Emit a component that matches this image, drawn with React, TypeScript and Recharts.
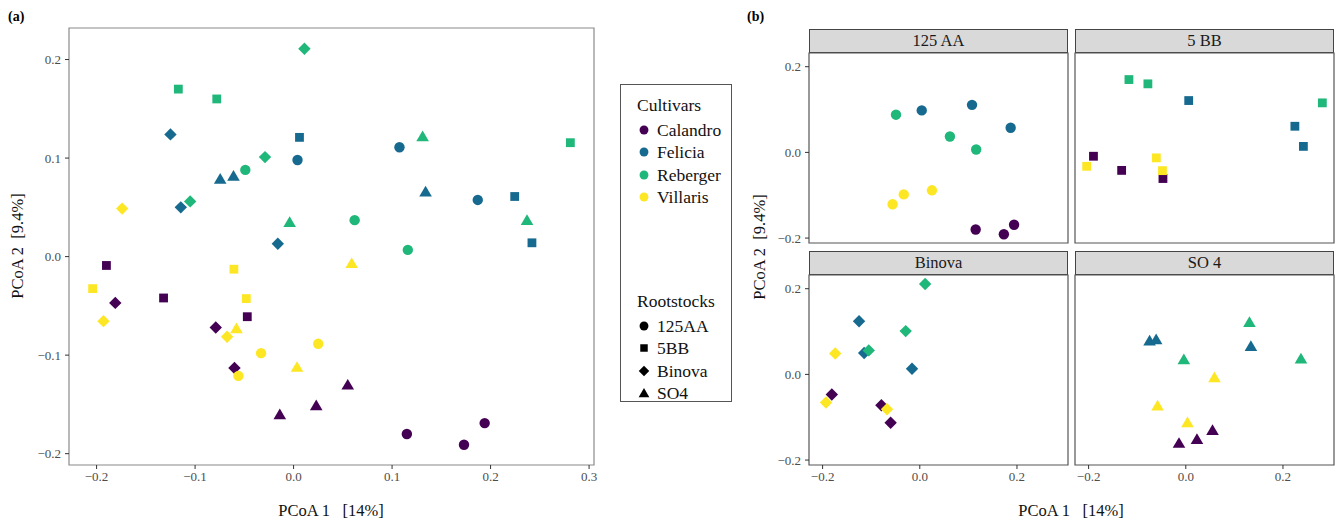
import React from "react";
import {
  ReferenceArea,
  Scatter,
  ScatterChart,
  XAxis,
  YAxis,
} from "recharts";

// cultivars and their viridis colours
const CULTIVARS = ["Calandro", "Felicia", "Reberger", "Villaris"];
const CULTIVAR_COLORS = ["#440154", "#176a8f", "#20b77a", "#fde725"];

// rootstocks, facet titles and the marker used for each
const ROOTSTOCKS = ["125AA", "5BB", "Binova", "SO4"];
const FACET_TITLES = ["125 AA", "5 BB", "Binova", "SO 4"];
const ROOTSTOCK_SHAPES = ["circle", "square", "diamond", "triangle"];

// rootstock of each sample (same order in every cultivar array)
const SAMPLE_ROOTSTOCK = [
  "125AA", "125AA", "125AA",
  "5BB", "5BB", "5BB",
  "Binova", "Binova", "Binova",
  "SO4", "SO4", "SO4",
];

// PCoA coordinates
const calandroPC1 = [0.115, 0.173, 0.194, -0.19, -0.132, -0.047, -0.181, -0.079, -0.06, -0.014, 0.023, 0.055];
const calandroPC2 = [-0.18, -0.191, -0.169, -0.009, -0.042, -0.061, -0.047, -0.072, -0.113, -0.16, -0.151, -0.13];

const feliciaPC1 = [0.004, 0.1075, 0.187, 0.006, 0.2245, 0.242, -0.125, -0.1145, -0.016, -0.0745, -0.061, 0.134];
const feliciaPC2 = [0.098, 0.111, 0.0575, 0.121, 0.061, 0.014, 0.124, 0.05, 0.013, 0.079, 0.082, 0.066];

const rebergerPC1 = [-0.049, 0.062, 0.116, -0.117, -0.078, 0.281, 0.011, -0.029, -0.105, -0.004, 0.131, 0.237];
const rebergerPC2 = [0.088, 0.037, 0.0068, 0.17, 0.16, 0.1156, 0.211, 0.101, 0.056, 0.035, 0.122, 0.037];

const villarisPC1 = [-0.056, -0.033, 0.025, -0.204, -0.0606, -0.048, -0.174, -0.193, -0.0675, -0.058, 0.0035, 0.059];
const villarisPC2 = [-0.121, -0.098, -0.0885, -0.0325, -0.0128, -0.0426, 0.0487, -0.0655, -0.0814, -0.0727, -0.112, -0.0067];

const PC1 = [calandroPC1, feliciaPC1, rebergerPC1, villarisPC1];
const PC2 = [calandroPC2, feliciaPC2, rebergerPC2, villarisPC2];

const X_DOMAIN: [number, number] = [-0.228, 0.305];
const Y_DOMAIN: [number, number] = [-0.2115, 0.232];
const MAIN_X_TICKS = [-0.2, -0.1, 0, 0.1, 0.2, 0.3];
const MAIN_Y_TICKS = [-0.2, -0.1, 0, 0.1, 0.2];
const FACET_TICKS = [-0.2, 0, 0.2];

const FONT = '"Liberation Serif", "DejaVu Serif", serif';
const TICK_STYLE = { fill: "#4d4d4d", fontSize: 13, fontFamily: FONT };

type Point = { x: number; y: number };

function pointsFor(cultivar: number, rootstock: string): Point[] {
  return SAMPLE_ROOTSTOCK.map((r, i) => ({ r, x: PC1[cultivar][i], y: PC2[cultivar][i] }))
    .filter((p) => p.r === rootstock)
    .map(({ x, y }) => ({ x, y }));
}

function fmt(v: number) {
  const s = Math.abs(v).toFixed(1);
  return v < -1e-9 ? `\u2212${s}` : s;
}

function Mark({ shape, cx, cy, color, scale = 1 }: { shape: string; cx: number; cy: number; color: string; scale?: number }) {
  if (cx == null || cy == null) return null;
  if (shape === "circle") return <circle cx={cx} cy={cy} r={5.2 * scale} fill={color} />;
  if (shape === "square") {
    const h = 4.4 * scale;
    return <rect x={cx - h} y={cy - h} width={h * 2} height={h * 2} fill={color} />;
  }
  if (shape === "diamond") {
    const d = 6.2 * scale;
    return <path d={`M${cx},${cy - d}L${cx + d},${cy}L${cx},${cy + d}L${cx - d},${cy}Z`} fill={color} />;
  }
  const w = 6.3 * scale;
  return (
    <path
      d={`M${cx},${cy - 5.8 * scale}L${cx + w},${cy + 4.9 * scale}L${cx - w},${cy + 4.9 * scale}Z`}
      fill={color}
    />
  );
}

function seriesFor(rootstocks: string[]) {
  const out: React.ReactNode[] = [];
  CULTIVARS.forEach((name, c) => {
    rootstocks.forEach((r) => {
      const shape = ROOTSTOCK_SHAPES[ROOTSTOCKS.indexOf(r)];
      out.push(
        <Scatter
          key={`${name}-${r}`}
          name={`${name} ${r}`}
          data={pointsFor(c, r)}
          isAnimationActive={false}
          shape={(p: any) => <Mark shape={shape} cx={p.cx} cy={p.cy} color={CULTIVAR_COLORS[c]} />}
        />,
      );
    });
  });
  return out;
}

function MainPanel() {
  return (
    <div style={{ position: "absolute", left: 0, top: 0 }}>
      <ScatterChart width={600} height={523} margin={{ top: 28, right: 6, bottom: 0, left: 0 }}>
        <XAxis
          type="number"
          dataKey="x"
          domain={X_DOMAIN}
          ticks={MAIN_X_TICKS}
          interval={0}
          allowDataOverflow
          height={58}
          tickSize={4}
          tickMargin={3}
          axisLine={false}
          tickLine={{ stroke: "#333" }}
          tickFormatter={fmt}
          tick={TICK_STYLE}
        />
        <YAxis
          type="number"
          dataKey="y"
          domain={Y_DOMAIN}
          ticks={MAIN_Y_TICKS}
          interval={0}
          allowDataOverflow
          width={69}
          tickSize={4}
          tickMargin={4}
          axisLine={false}
          tickLine={{ stroke: "#333" }}
          tickFormatter={fmt}
          tick={TICK_STYLE}
        />
        <ReferenceArea
          x1={X_DOMAIN[0]}
          x2={X_DOMAIN[1]}
          y1={Y_DOMAIN[0]}
          y2={Y_DOMAIN[1]}
          fill="none"
          stroke="#8a8a8a"
          strokeWidth={1.2}
          ifOverflow="visible"
        />
        {seriesFor(ROOTSTOCKS)}
      </ScatterChart>
    </div>
  );
}

const FACET_W = 259;
const FACET_H = 190;

function Facet({ index, left, top, showX, showY }: { index: number; left: number; top: number; showX: boolean; showY: boolean }) {
  const yW = showY ? 40 : 0;
  const xH = showX ? 30 : 0;
  return (
    <>
      <div
        style={{
          position: "absolute",
          left: left,
          top: top - 24,
          width: FACET_W,
          height: 24,
          boxSizing: "border-box",
          background: "#d9d9d9",
          border: "1px solid #444",
          textAlign: "center",
          fontSize: 16.5,
          lineHeight: "22px",
          color: "#1a1a1a",
        }}
      >
        {FACET_TITLES[index]}
      </div>
      <div style={{ position: "absolute", left: left - yW - 1, top: top - 1 }}>
        <ScatterChart
          width={FACET_W + yW + 2}
          height={FACET_H + xH + 2}
          margin={{ top: 1, right: 1, bottom: 1, left: 1 }}
        >
          <XAxis
            type="number"
            dataKey="x"
            domain={X_DOMAIN}
            ticks={FACET_TICKS}
            interval={0}
            allowDataOverflow
            hide={!showX}
            height={xH}
            tickSize={4}
            tickMargin={3}
            axisLine={false}
            tickLine={{ stroke: "#333" }}
            tickFormatter={fmt}
            tick={TICK_STYLE}
          />
          <YAxis
            type="number"
            dataKey="y"
            domain={Y_DOMAIN}
            ticks={FACET_TICKS}
            interval={0}
            allowDataOverflow
            hide={!showY}
            width={yW}
            tickSize={4}
            tickMargin={4}
            axisLine={false}
            tickLine={{ stroke: "#333" }}
            tickFormatter={fmt}
            tick={TICK_STYLE}
          />
          <ReferenceArea
            x1={X_DOMAIN[0]}
            x2={X_DOMAIN[1]}
            y1={Y_DOMAIN[0]}
            y2={Y_DOMAIN[1]}
            fill="none"
            stroke="#555"
            strokeWidth={1.2}
            ifOverflow="visible"
          />
          {seriesFor([ROOTSTOCKS[index]])}
        </ScatterChart>
      </div>
    </>
  );
}

function LegendRow({ top, shape, color, label }: { top: number; shape: string; color: string; label: string }) {
  return (
    <div style={{ position: "absolute", left: 0, top: top - 11, height: 22, width: 110 }}>
      <svg width={30} height={22} style={{ position: "absolute", left: 8, top: 0 }}>
        <Mark shape={shape} cx={15} cy={11} color={color} scale={0.85} />
      </svg>
      <div style={{ position: "absolute", left: 36, top: 0, lineHeight: "22px", fontSize: 17.5, color: "#111" }}>
        {label}
      </div>
    </div>
  );
}

function LegendBox() {
  const cultivarRows = [45, 67, 90, 112];
  const rootRows = [241, 263, 286, 308];
  return (
    <div
      style={{
        position: "absolute",
        left: 620,
        top: 84,
        width: 112,
        height: 318,
        boxSizing: "border-box",
        border: "1px solid #555",
      }}
    >
      <div style={{ position: "absolute", left: 16, top: 9, fontSize: 17.5, lineHeight: "22px", color: "#111" }}>Cultivars</div>
      {CULTIVARS.map((c, i) => (
        <LegendRow key={c} top={cultivarRows[i]} shape="circle" color={CULTIVAR_COLORS[i]} label={c} />
      ))}
      <div style={{ position: "absolute", left: 16, top: 205, fontSize: 17.5, lineHeight: "22px", color: "#111" }}>Rootstocks</div>
      {ROOTSTOCKS.map((r, i) => (
        <LegendRow key={r} top={rootRows[i]} shape={ROOTSTOCK_SHAPES[i]} color="#000" label={r} />
      ))}
    </div>
  );
}

const titleStyle: React.CSSProperties = {
  position: "absolute",
  fontSize: 16.5,
  color: "#111",
  whiteSpace: "pre",
  lineHeight: "18px",
};

export default function App() {
  return (
    <div
      style={{
        position: "absolute",
        left: 0,
        top: 0,
        width: 1338,
        height: 523,
        background: "#fff",
        fontFamily: FONT,
        overflow: "hidden",
      }}
    >
      <style>{"svg.recharts-surface{overflow:visible}"}</style>
      <MainPanel />
      <div style={{ position: "absolute", left: 8, top: 9, fontSize: 14, fontWeight: "bold" }}>(a)</div>
      <div style={{ ...titleStyle, left: 231, top: 502, width: 200, textAlign: "center" }}>PCoA 1   [14%]</div>
      <div
        style={{
          ...titleStyle,
          left: 18 - 100,
          top: 246 - 9,
          width: 200,
          textAlign: "center",
          transform: "rotate(-90deg)",
        }}
      >
        PCoA 2  [9.4%]
      </div>
      <LegendBox />

      <div style={{ position: "absolute", left: 747, top: 9, fontSize: 14, fontWeight: "bold" }}>(b)</div>
      <Facet index={0} left={809} top={53} showX={false} showY={true} />
      <Facet index={1} left={1075} top={53} showX={false} showY={false} />
      <Facet index={2} left={809} top={275} showX={true} showY={true} />
      <Facet index={3} left={1075} top={275} showX={true} showY={false} />
      <div style={{ ...titleStyle, left: 971, top: 502, width: 200, textAlign: "center" }}>PCoA 1   [14%]</div>
      <div
        style={{
          ...titleStyle,
          left: 760 - 100,
          top: 247 - 9,
          width: 200,
          textAlign: "center",
          transform: "rotate(-90deg)",
        }}
      >
        PCoA 2  [9.4%]
      </div>
    </div>
  );
}
